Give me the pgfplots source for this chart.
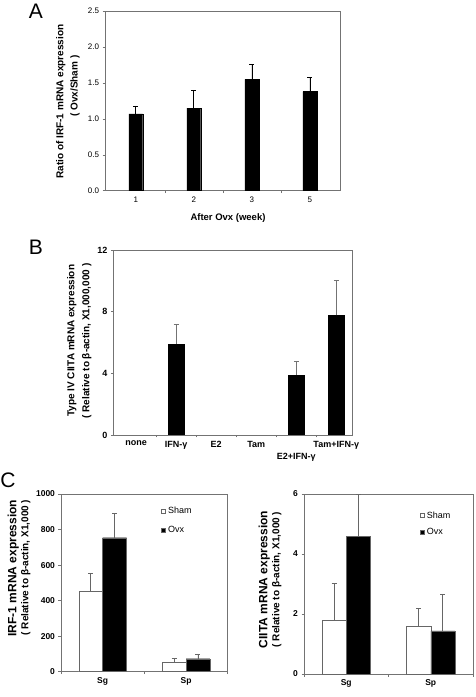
\documentclass[border=0pt]{standalone}
\usepackage{pgfplots}
\pgfplotsset{compat=1.18}
\usepackage{fontspec}
\setmainfont{Liberation Sans}
\newcommand{\fs}[1]{\fontsize{#1}{#1}\selectfont}
\pgfplotsset{
 base/.style={
  scale only axis, anchor=south west,
  axis line style={black!55, line width=0.6pt},
  every tick/.style={black!55, line width=0.5pt},
  tick align=outside, major tick length=2.5pt, minor tick length=2.5pt,
  tick pos=left,
  /pgf/number format/assume math mode=true,
  /pgf/number format/1000 sep={},
  ymin=0, ybar,
 },
 ebar/.style={
  /pgfplots/error bars/y dir=plus, /pgfplots/error bars/y explicit,
  /pgfplots/error bars/error bar style={line width=0.6pt, #1},
  /pgfplots/error bars/error mark options={rotate=90, mark size=2.5pt, line width=0.6pt, #1}},
 sqlegend/.style={
  legend image code/.code={\draw[##1, line width=0.4pt] (0pt,-2pt) rectangle (4pt,2pt);},
  legend cell align=left,
  legend style={draw=none, fill=none, anchor=north west, inner sep=0pt, font=\fs{9},
   /tikz/every odd column/.append style={column sep=0.5pt}},
 },
}
\begin{document}
\begin{tikzpicture}
\useasboundingbox (0pt,0pt) rectangle (475pt,697pt);
% ---------- A ----------
\begin{axis}[base, at={(105pt,506.3pt)}, width=235pt, height=179.7pt,
 xmin=-0.53, xmax=3.52, ymax=2.5,
 xtick={0,1,2,3}, xticklabels={1,2,3,5}, major x tick style={draw=none},
 minor xtick={0.5,1.5,2.5},
 ytick={0,0.5,1,1.5,2,2.5},
 yticklabel style={/pgf/number format/.cd, fixed, fixed zerofill, precision=1},
 tick label style={font=\fs{8}},
 bar width=0.24]
\addplot[fill=black, draw=black, ebar=black] table[x=x,y=y,y error=e]{
x y e
0 1.07 0.11
1 1.15 0.25
2 1.55 0.21
3 1.38 0.20
};
\end{axis}
\node[font=\fs{21}] at (35.8pt,686pt) {A};
\node[rotate=90, font=\bfseries\fs{10}] at (60.7pt,595.3pt) {Ratio of IRF-1 mRNA expression};
\node[rotate=90, font=\bfseries\fs{10}] at (75pt,611pt) {( Ovx/Sham )};
\node[font=\bfseries\fs{9.5}] at (228pt,479pt) {After Ovx (week)};
% ---------- B ----------
\begin{axis}[base, at={(113.3pt,262pt)}, width=239pt, height=185pt,
 xmin=-0.57, xmax=5.4, ymax=12,
 xtick={0,1,2,3,5}, xticklabels={none,IFN-γ,E2,Tam,Tam+IFN-γ},
 extra x ticks={4}, extra x tick labels={E2+IFN-γ},
 extra x tick style={major tick length=0pt, xticklabel style={yshift=-15pt}},
 major x tick style={draw=none},
 minor xtick={0.5,1.5,2.5,3.5,4.5},
 ytick={0,4,8,12},
 tick label style={font=\bfseries\fs{9}},
 bar width=0.4]
\addplot[fill=black, draw=black, ebar=black!55] table[x=x,y=y,y error=e]{
x y e
1 5.90 1.25
4 3.89 0.86
5 7.76 2.27
};
\end{axis}
\node[font=\fs{21}] at (35.8pt,449.5pt) {B};
\node[rotate=90, font=\bfseries\fs{10}] at (71.7pt,356.2pt) {Type IV CIITA mRNA expression};
\node[rotate=90, font=\bfseries\fs{10}] at (86.7pt,356pt) {( Relative to β-actin, X1,000,000 )};
% ---------- C left ----------
\begin{axis}[base, sqlegend, at={(61pt,25.3pt)}, width=166.7pt, height=177.7pt,
 xmin=-0.5, xmax=1.5, ymax=1000,
 xtick={0,1}, xticklabels={Sg,Sp}, major x tick style={draw=none},
 minor xtick={-0.5,0.5,1.5},
 ytick={0,200,400,600,800,1000},
 tick label style={font=\bfseries\fs{8.5}},
 bar width=0.287,
 legend style={at={(0.6,0.94)}, /tikz/row sep=7pt}]
\addplot[fill=white, draw=black!60, bar shift=-0.1435, ebar=black!60] table[x=x,y=y,y error=e]{
x y e
0 454 97
1 53 22
};
\addplot[fill=black, draw=black!60, bar shift=0.1435, ebar=black!60] table[x=x,y=y,y error=e]{
x y e
0 754 137
1 73 27
};
\legend{Sham,Ovx}
\end{axis}
\node[font=\fs{21}] at (8pt,217pt) {C};
\node[rotate=90, font=\bfseries\fs{12}] at (13.3pt,129pt) {IRF-1 mRNA expression};
\node[rotate=90, font=\bfseries\fs{10}] at (25.7pt,129.5pt) {( Relative to β-actin, X1,000 )};
% ---------- C right ----------
\begin{axis}[base, sqlegend, at={(304pt,23pt)}, width=169pt, height=180pt,
 xmin=-0.5, xmax=1.5, ymax=6,
 xtick={0,1}, xticklabels={Sg,Sp}, major x tick style={draw=none},
 minor xtick={-0.5,0.5,1.5},
 ytick={0,2,4,6},
 tick label style={font=\bfseries\fs{8.5}},
 bar width=0.285,
 legend style={at={(0.685,0.915)}, /tikz/row sep=5pt}]
\addplot[fill=white, draw=black!60, bar shift=-0.1425, ebar=black!60] table[x=x,y=y,y error=e]{
x y e
0 1.80 1.21
1 1.58 0.60
};
\addplot[fill=black, draw=black!60, bar shift=0.1425, ebar=black!60] table[x=x,y=y,y error=e]{
x y e
0 4.58 1.42
1 1.44 1.23
};
\legend{Sham,Ovx}
\end{axis}
\node[rotate=90, font=\bfseries\fs{12}] at (264.3pt,117.5pt) {CIITA mRNA expression};
\node[rotate=90, font=\bfseries\fs{10}] at (276.7pt,117.5pt) {( Relative to β-actin, X1,000 )};
\end{tikzpicture}
\end{document}
